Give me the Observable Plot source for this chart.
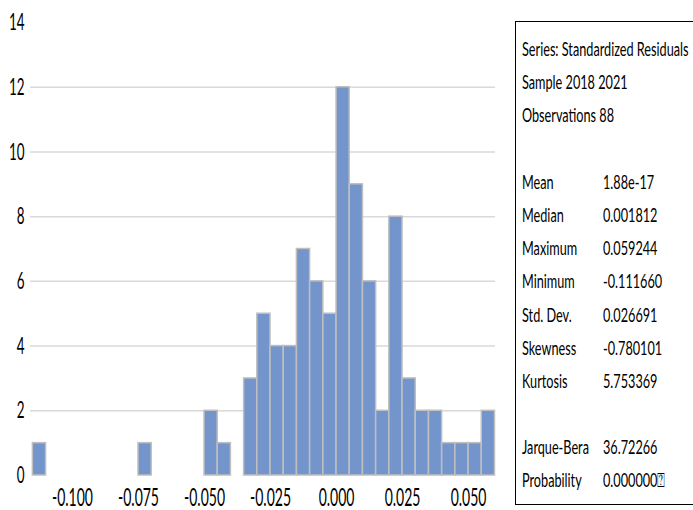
<!DOCTYPE html>
<html><head><meta charset="utf-8">
<script src="https://cdn.jsdelivr.net/npm/d3@7"></script>
<script src="https://cdn.jsdelivr.net/npm/@observablehq/plot@0.6"></script>
<style>
html,body{margin:0;padding:0;background:#fff;overflow:hidden}
#wrap{position:relative;width:693px;height:510px;overflow:hidden;background:#fff}
#chart{position:absolute;left:0;top:0}
#stats{position:absolute;left:515px;top:21px;width:210px;height:484px;border:1.5px solid #000;box-sizing:border-box;font-family:Lato,"DejaVu Sans",sans-serif;font-size:19.5px;color:#000;padding-top:10px}
.row{position:relative;height:33.2px;line-height:33.2px;white-space:nowrap}
.row span{position:absolute;top:0;transform-origin:0 50%;transform:scaleX(0.65)}
.lab{left:6px}
.val{left:87px}
</style></head><body>
<div id="wrap"><div id="chart"></div><div id="stats"></div></div>
<script>
const binLo = [-0.115,-0.075,-0.050,-0.045,-0.035,-0.030,-0.025,-0.020,-0.015,-0.010,-0.005,0.000,0.005,0.010,0.015,0.020,0.025,0.030,0.035,0.040,0.045,0.050,0.055];
const counts = [1,1,2,1,3,5,4,4,7,6,5,12,9,6,2,8,3,2,2,1,1,1,2];
const binWidth = 0.005;
const xTicks = [-0.100,-0.075,-0.050,-0.025,0.000,0.025,0.050];
const yTicks = [0,2,4,6,8,10,12,14];
const gridTicks = [2,4,6,8,10,12];
const headerLines = ["Series: Standardized Residuals","Sample 2018 2021","Observations 88"];
const statNames = ["Mean","Median","Maximum","Minimum","Std. Dev.","Skewness","Kurtosis"];
const statValues = ["1.88e-17","0.001812","0.059244","-0.111660","0.026691","-0.780101","5.753369"];
const testNames = ["Jarque-Bera","Probability"];
const testValues = ["36.72266","0.000000\u2370"];

const rows = binLo.map((lo, i) => ({x1: lo, x2: lo + binWidth, y: counts[i]}));

const plot = Plot.plot({
  width: 505, height: 510,
  marginLeft: 30, marginRight: 10, marginTop: 22, marginBottom: 35,
  style: {fontFamily: "Lato, sans-serif", color: "#000", background: "#fff"},
  x: {domain: [-0.1159, 0.0602]},
  y: {domain: [0, 14]},
  marks: [
    Plot.ruleY(gridTicks, {stroke: "#D9D9D9", strokeWidth: 1.5}),
    Plot.rectY(rows, {x1: "x1", x2: "x2", y: "y", fill: "#7395CC", stroke: "#BFBFBF", strokeWidth: 1.5}),
    Plot.axisX(xTicks, {tickSize: 0, tickPadding: 13, tickFormat: d => d.toFixed(3), fontSize: 25, label: null}),
    Plot.axisY(yTicks, {tickSize: 0, tickPadding: 6, fontSize: 24, label: null})
  ]
});
document.getElementById("chart").appendChild(plot);

// condense glyphs horizontally (narrow typeface look), scaling about each text's anchor
plot.querySelectorAll("text").forEach(t => {
  const b = t.getBBox();
  const anchor = getComputedStyle(t).textAnchor;
  const cx = anchor === "end" ? b.x + b.width : anchor === "middle" ? b.x + b.width / 2 : b.x;
  const tr = t.getAttribute("transform") || "";
  t.setAttribute("transform", `${tr} translate(${cx},0) scale(0.56,1) translate(${-cx},0)`);
});

const box = document.getElementById("stats");
function addRow(lab, val) {
  const r = document.createElement("div");
  r.className = "row";
  if (lab != null) { const s = document.createElement("span"); s.className = "lab"; s.textContent = lab; r.appendChild(s); }
  if (val != null) { const s = document.createElement("span"); s.className = "val"; s.textContent = val; r.appendChild(s); }
  box.appendChild(r);
}
headerLines.forEach(h => addRow(h, null));
addRow(null, null);
statNames.forEach((n, i) => addRow(n, statValues[i]));
addRow(null, null);
testNames.forEach((n, i) => addRow(n, testValues[i]));
</script>
</body></html>
